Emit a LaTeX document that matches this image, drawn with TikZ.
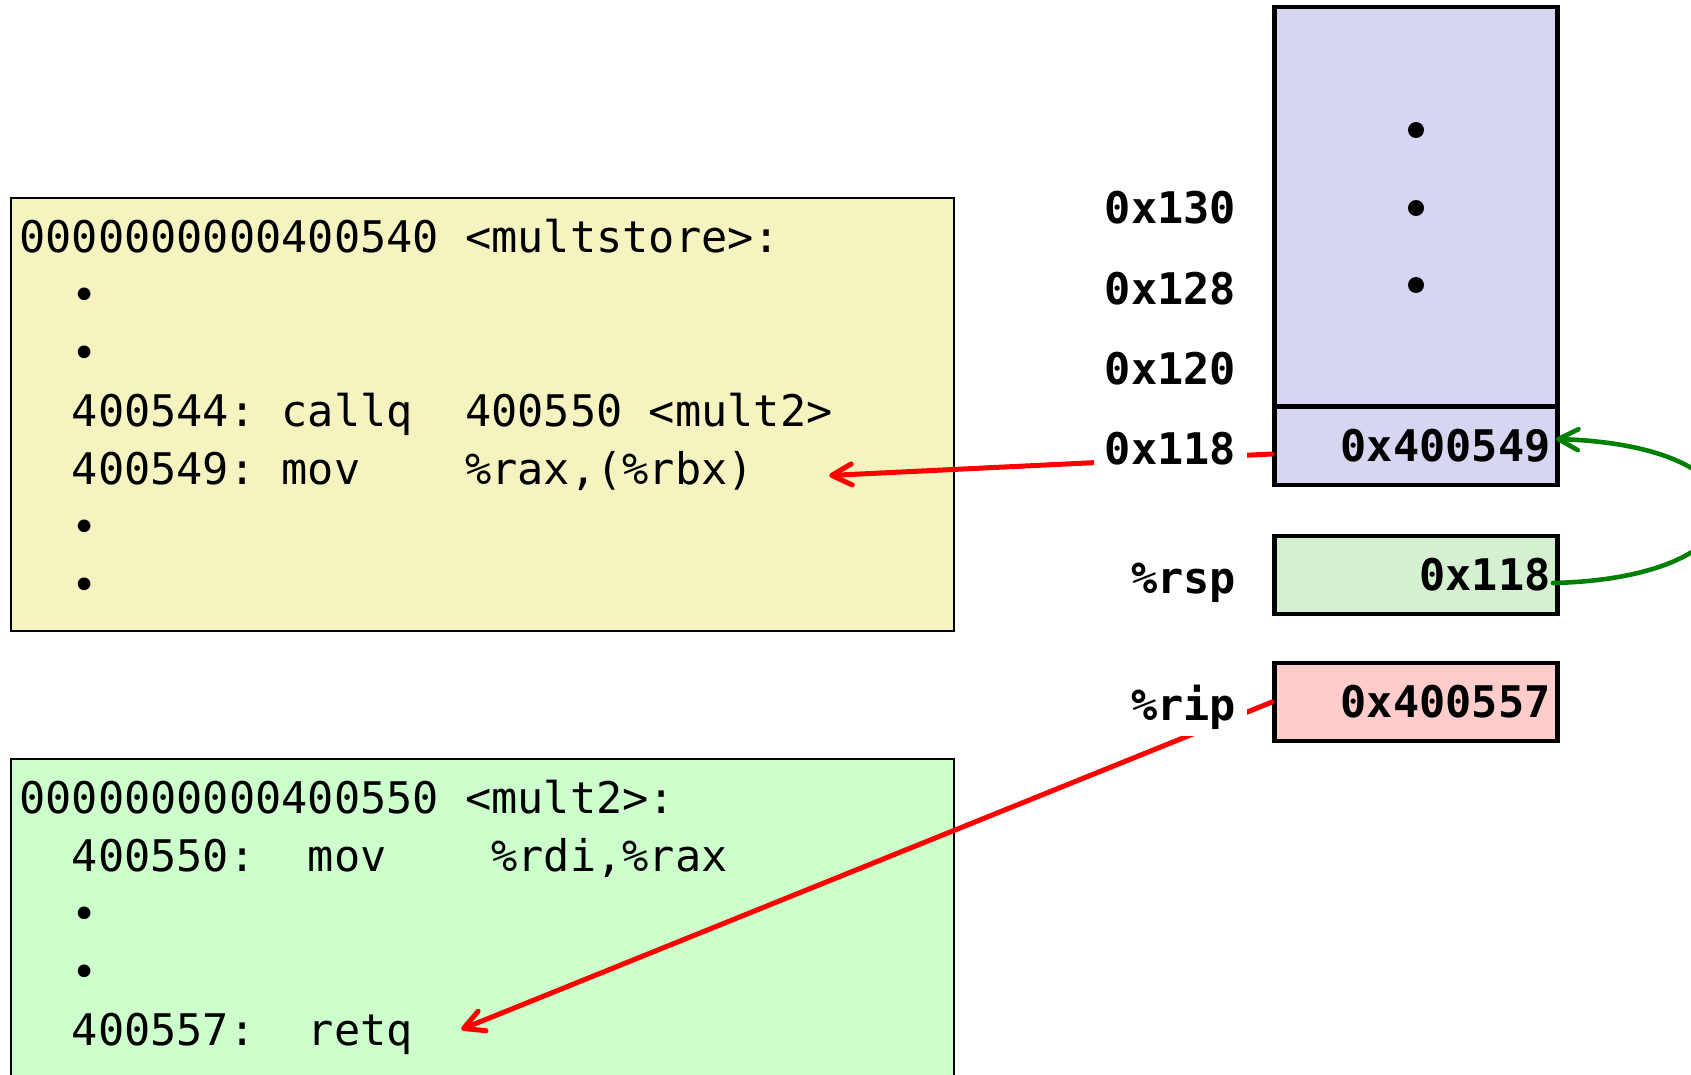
\documentclass[tikz,border=0pt]{standalone}
\usepackage{fontspec}
\setmonofont{DejaVu Sans Mono}
\usetikzlibrary{arrows.meta,positioning}
\definecolor{codeyellow}{RGB}{245,244,192}
\definecolor{codegreen}{RGB}{204,255,204}
\definecolor{stackblue}{RGB}{214,214,242}
\definecolor{rspgreen}{RGB}{213,240,208}
\definecolor{rippink}{RGB}{255,204,204}
\definecolor{linkgreen}{RGB}{0,128,0}

\begin{document}
\begin{tikzpicture}[x=0.02cm,y=-0.02cm,
    code/.style={anchor=base west,inner sep=0pt,font=\ttfamily\fontsize{24.8}{30}\selectfont},
    addr/.style={anchor=base east,inner xsep=6pt,inner ysep=4pt,fill=white,font=\ttfamily\bfseries\fontsize{24.8}{30}\selectfont},
    cell/.style={draw,line width=2.8pt,minimum width=5.66cm,minimum height=1.56cm,text width=5.38cm,inner xsep=0.14cm,inner ysep=0pt,align=right,font=\ttfamily\bfseries\fontsize{24.8}{30}\selectfont},
    codebox/.style={draw,line width=1.1pt},
    link/.style={red,line width=2.85pt,line cap=round,-{Straight Barb[length=0.4cm,width=0.42cm,round]}}]
    	\useasboundingbox (0,0) rectangle (1691,1075);
    	% caller
    	\draw [codebox,fill=codeyellow] (11,198) rectangle (954,631);
    	\node [code] (l1) at (19,252) {0000000000400540 <multstore>:};
    	\node [code] (l2) at (19,310) {~~•};
    	\node [code] (l3) at (19,368) {~~•};
    	\node [code] (l4) at (19,426) {~~400544: callq~~400550 <mult2>};
    	\node [code] (l5) at (19,484) {~~400549: mov~~~~\%rax,(\%rbx)};
    	\node [code] (l6) at (19,542) {~~•};
    	\node [code] (l7) at (19,600) {~~•};
    	% callee
    	\draw [codebox,fill=codegreen] (11,759) rectangle (954,1090);
    	\node [code] (m1) at (19,813) {0000000000400550 <mult2>:};
    	\node [code] (m2) at (19,871) {~~400550:~~mov~~~~\%rdi,\%rax};
    	\node [code] (m3) at (19,929) {~~•};
    	\node [code] (m4) at (19,987) {~~•};
    	\node [code] (m5) at (19,1045) {~~400557:~~retq};
    	% stack and registers
    	\draw [line width=2.8pt,fill=stackblue] (1274.5,7) rectangle (1557.5,406);
    	\foreach \y in {130,208,285}
    		\fill (1416,\y) circle (0.16cm);
    	\node [cell,fill=stackblue] (ret) at (1416,446) {0x400549};
    	\node [cell,fill=rspgreen] (rsp) at (1416,575) {0x118};
    	\node [cell,fill=rippink] (rip) at (1416,702) {0x400557};
    	\draw [link] ([shift={(0,8)}]ret.west) -- ([shift={(75,5)}]l5.east);
    	\draw [link] (rip.west) -- ([shift={(48,-4)}]m5.east);
    	\node [addr] (a130) at (1247,223) {0x130};
    	\node [addr] (a128) at (1247,304) {0x128};
    	\node [addr] (a120) at (1247,384) {0x120};
    	\node [addr] (a118) at (1247,464) {0x118};
    	\node [addr] (rsplabel) at (1247,593) {\%rsp};
    	\node [addr] (riplabel) at (1247,720) {\%rip};
    	\draw [linkgreen,line width=2.6pt,line cap=round,-{Straight Barb[length=0.4cm,width=0.42cm,round]}] ([shift={(-7,8)}]rsp.east) .. controls +(220,-5) and +(226,7) .. ([shift={(-4,-7)}]ret.east);
\end{tikzpicture}
\end{document}
